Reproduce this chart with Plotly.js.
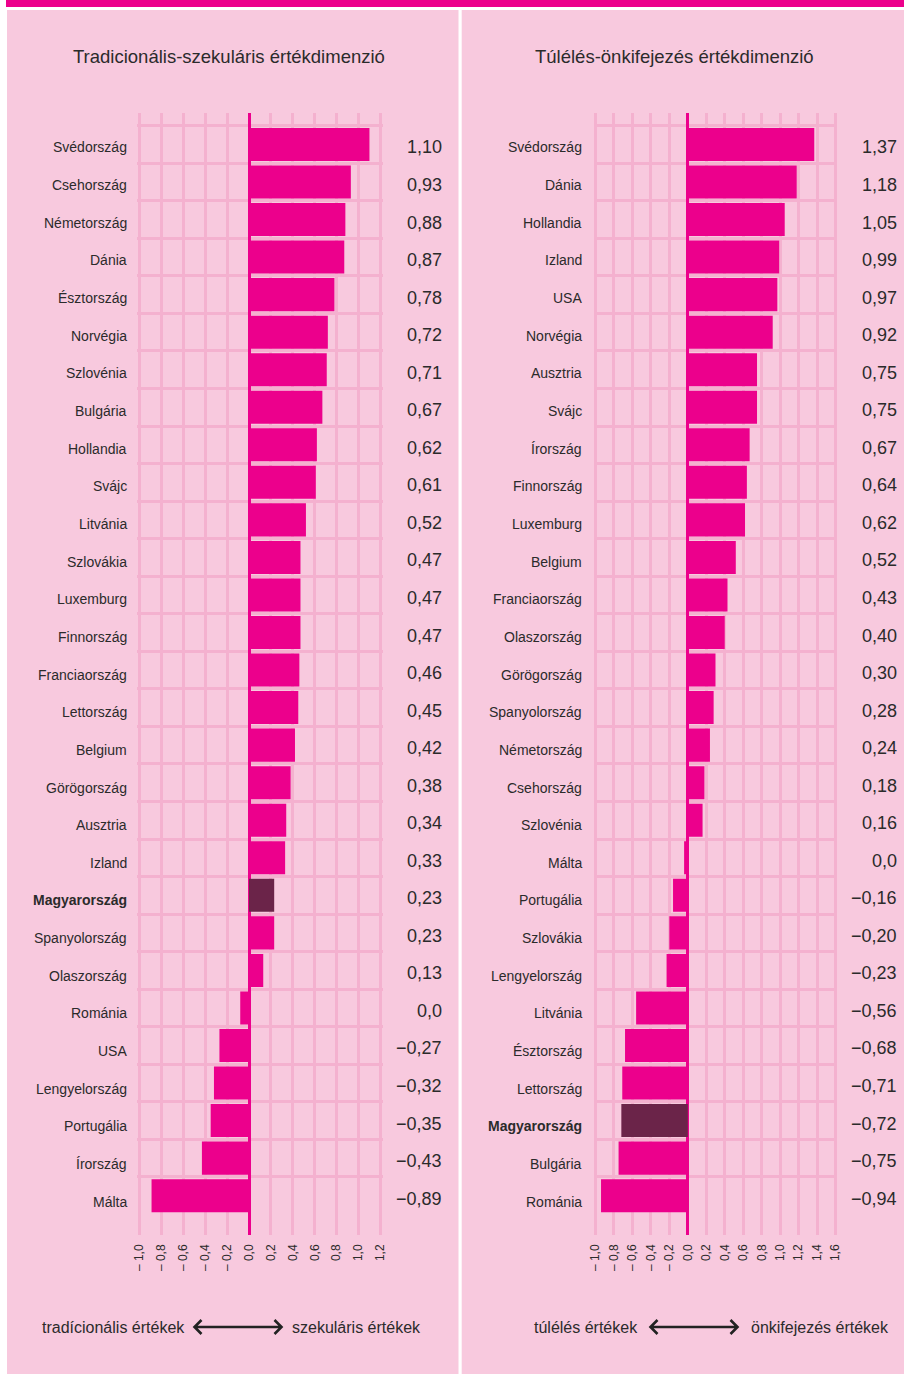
<!DOCTYPE html>
<html>
<head>
<meta charset="utf-8">
<script src="https://cdn.plot.ly/plotly-3.0.1.min.js"></script>
<style>
  html, body { margin: 0; padding: 0; background: #ffffff; }
  #chart { width: 904px; height: 1374px; }
</style>
</head>
<body>
<div id="chart"></div>
<script>
// ---------------- DATA ----------------
var tradTitle = "Tradicionális-szekuláris értékdimenzió";
var survTitle = "Túlélés-önkifejezés értékdimenzió";

var tradCountries = ["Svédország","Csehország","Németország","Dánia","Észtország","Norvégia","Szlovénia","Bulgária","Hollandia","Svájc","Litvánia","Szlovákia","Luxemburg","Finnország","Franciaország","Lettország","Belgium","Görögország","Ausztria","Izland","Magyarország","Spanyolország","Olaszország","Románia","USA","Lengyelország","Portugália","Írország","Málta"];
var tradValues = [1.10,0.93,0.88,0.87,0.78,0.72,0.71,0.67,0.62,0.61,0.52,0.47,0.47,0.47,0.46,0.45,0.42,0.38,0.34,0.33,0.23,0.23,0.13,-0.08,-0.27,-0.32,-0.35,-0.43,-0.89];
var tradLabels = ["1,10","0,93","0,88","0,87","0,78","0,72","0,71","0,67","0,62","0,61","0,52","0,47","0,47","0,47","0,46","0,45","0,42","0,38","0,34","0,33","0,23","0,23","0,13","0,0","\u22120,27","\u22120,32","\u22120,35","\u22120,43","\u22120,89"];

var survCountries = ["Svédország","Dánia","Hollandia","Izland","USA","Norvégia","Ausztria","Svájc","Írország","Finnország","Luxemburg","Belgium","Franciaország","Olaszország","Görögország","Spanyolország","Németország","Csehország","Szlovénia","Málta","Portugália","Szlovákia","Lengyelország","Litvánia","Észtország","Lettország","Magyarország","Bulgária","Románia"];
var survValues = [1.37,1.18,1.05,0.99,0.97,0.92,0.75,0.75,0.67,0.64,0.62,0.52,0.43,0.40,0.30,0.28,0.24,0.18,0.16,-0.04,-0.16,-0.20,-0.23,-0.56,-0.68,-0.71,-0.72,-0.75,-0.94];
var survLabels = ["1,37","1,18","1,05","0,99","0,97","0,92","0,75","0,75","0,67","0,64","0,62","0,52","0,43","0,40","0,30","0,28","0,24","0,18","0,16","0,0","\u22120,16","\u22120,20","\u22120,23","\u22120,56","\u22120,68","\u22120,71","\u22120,72","\u22120,75","\u22120,94"];

var highlight = "Magyarország";

var tradTickVals = [-1.0,-0.8,-0.6,-0.4,-0.2,0.0,0.2,0.4,0.6,0.8,1.0,1.2];
var tradTickText = ["\u2013 1,0","\u2013 0,8","\u2013 0,6","\u2013 0,4","\u2013 0,2","0,0","0,2","0,4","0,6","0,8","1,0","1,2"];
var survTickVals = [-1.0,-0.8,-0.6,-0.4,-0.2,0.0,0.2,0.4,0.6,0.8,1.0,1.2,1.4,1.6];
var survTickText = ["\u2013 1,0","\u2013 0,8","\u2013 0,6","\u2013 0,4","\u2013 0,2","0,0","0,2","0,4","0,6","0,8","1,0","1,2","1,4","1,6"];

var tradLeftLabel = "tradícionális értékek";
var tradRightLabel = "szekuláris értékek";
var survLeftLabel = "túlélés értékek";
var survRightLabel = "önkifejezés értékek";

// ---------------- STYLE ----------------
var W = 904, H = 1374;
var FONT = "Liberation Sans, Arial, Helvetica, sans-serif";
var PINK_BG = "#f8c9de";
var GRID = "#f4b1cf";
var MAGENTA = "#ec008c";
var DARK = "#6b2449";
var TEXT = "#2b2b2b";

function px(x) { return x / W; }
function py(y) { return 1 - y / H; }

var plotTop = 112.7, plotBot = 1235;
var yRange = [28.5 + 0.548, -0.5 - 0.346];

function barColors(countries) {
  return countries.map(function (c) { return c === highlight ? DARK : MAGENTA; });
}

var traces = [
  {
    type: "bar", orientation: "h",
    x: tradValues, y: tradCountries,
    xaxis: "x", yaxis: "y",
    width: 0.88,
    marker: { color: barColors(tradCountries), line: { width: 0 } },
    hoverinfo: "none"
  },
  {
    type: "bar", orientation: "h",
    x: survValues, y: survCountries,
    xaxis: "x2", yaxis: "y2",
    width: 0.88,
    marker: { color: barColors(survCountries), line: { width: 0 } },
    hoverinfo: "none"
  }
];

function xAxis(domain, range, tv, tt, anchor) {
  return {
    domain: domain, range: range, anchor: anchor,
    tickmode: "array", tickvals: tv, ticktext: tt,
    tickangle: -90,
    tickfont: { family: FONT, size: 12, color: TEXT },
    ticks: "", ticklabelstandoff: 6,
    showgrid: true, gridcolor: GRID, gridwidth: 3,
    zeroline: true, zerolinecolor: MAGENTA, zerolinewidth: 3,
    showline: false, fixedrange: true
  };
}
function yAxis(domain, cats, anchor) {
  return {
    domain: domain, anchor: anchor,
    type: "category", categoryorder: "array", categoryarray: cats,
    range: yRange,
    tickson: "boundaries", ticks: "", showticklabels: false,
    showgrid: true, gridcolor: GRID, gridwidth: 3,
    zeroline: false, showline: false, fixedrange: true
  };
}

// left axis: 0 at 249px, 109.5 px/unit ; right: 0 at 687.8px, 92.3 px/unit
var tradRange = [-1.02, 1.22];
var survRange = [-1.02, 1.62];
var tradDom = [px(249 + tradRange[0] * 109.5), px(249 + tradRange[1] * 109.5)];
var survDom = [px(687.8 + survRange[0] * 92.3), px(687.8 + survRange[1] * 92.3)];
var yDom = [py(plotBot), py(plotTop)];

var annotations = [];
function addText(text, x, y, xanchor, size) {
  annotations.push({
    text: text, x: x, y: y, xref: "paper", yref: "paper",
    xanchor: xanchor, yanchor: "middle", showarrow: false,
    font: { family: FONT, size: size, color: TEXT }
  });
}

addText(tradTitle, px(229), py(56), "center", 18.5);
addText(survTitle, px(674.5), py(56), "center", 18.5);

function rowLabels(countries, labels, yref, nameX, valX) {
  countries.forEach(function (c, i) {
    annotations.push({
      text: c === highlight ? "<b>" + c + "</b>" : c,
      x: px(nameX), xref: "paper", y: i, yref: yref,
      xanchor: "right", yanchor: "middle", yshift: -3 - 3 * i / 28, showarrow: false,
      font: { family: FONT, size: 14, color: TEXT }
    });
    annotations.push({
      text: labels[i],
      x: px(valX), xref: "paper", y: i, yref: yref,
      xanchor: "right", yanchor: "middle", yshift: -3, showarrow: false,
      font: { family: FONT, size: 18, color: TEXT }
    });
  });
}
rowLabels(tradCountries, tradLabels, "y", 129, 444);
rowLabels(survCountries, survLabels, "y2", 584, 899);

addText(tradLeftLabel, px(187), py(1327), "right", 16);
addText(tradRightLabel, px(290), py(1327), "left", 16);
addText(survLeftLabel, px(640), py(1327), "right", 16);
addText(survRightLabel, px(749), py(1327), "left", 16);

function arrowPath(x0, x1, y) {
  var h = 7, l = 7;
  return "M" + px(x0) + "," + py(y) + " L" + px(x1) + "," + py(y) +
    " M" + px(x0 + l) + "," + py(y - h) + " L" + px(x0) + "," + py(y) + " L" + px(x0 + l) + "," + py(y + h) +
    " M" + px(x1 - l) + "," + py(y - h) + " L" + px(x1) + "," + py(y) + " L" + px(x1 - l) + "," + py(y + h);
}

var shapes = [
  { type: "rect", xref: "paper", yref: "paper", x0: px(6), x1: px(904), y0: py(7), y1: py(0),
    fillcolor: MAGENTA, line: { width: 0 }, layer: "below" },
  { type: "rect", xref: "paper", yref: "paper", x0: px(7), x1: px(458.5), y0: py(1374), y1: py(10),
    fillcolor: PINK_BG, line: { width: 0 }, layer: "below" },
  { type: "rect", xref: "paper", yref: "paper", x0: px(461.7), x1: px(904), y0: py(1374), y1: py(10),
    fillcolor: PINK_BG, line: { width: 0 }, layer: "below" },
  { type: "path", xref: "paper", yref: "paper", path: arrowPath(194.5, 281.5, 1327),
    line: { color: "#222222", width: 2.6 } },
  { type: "path", xref: "paper", yref: "paper", path: arrowPath(650.5, 737.5, 1327),
    line: { color: "#222222", width: 2.6 } }
];

var layout = {
  width: W, height: H, autosize: false,
  margin: { l: 0, r: 0, t: 0, b: 0, pad: 0 },
  paper_bgcolor: "#ffffff", plot_bgcolor: "rgba(0,0,0,0)",
  showlegend: false, bargap: 0.1,
  font: { family: FONT, color: TEXT },
  xaxis: xAxis(tradDom, tradRange, tradTickVals, tradTickText, "y"),
  yaxis: yAxis(yDom, tradCountries, "x"),
  xaxis2: xAxis(survDom, survRange, survTickVals, survTickText, "y2"),
  yaxis2: yAxis(yDom, survCountries, "x2"),
  annotations: annotations,
  shapes: shapes
};

Plotly.newPlot("chart", traces, layout, { displayModeBar: false, staticPlot: true });
</script>
</body>
</html>
